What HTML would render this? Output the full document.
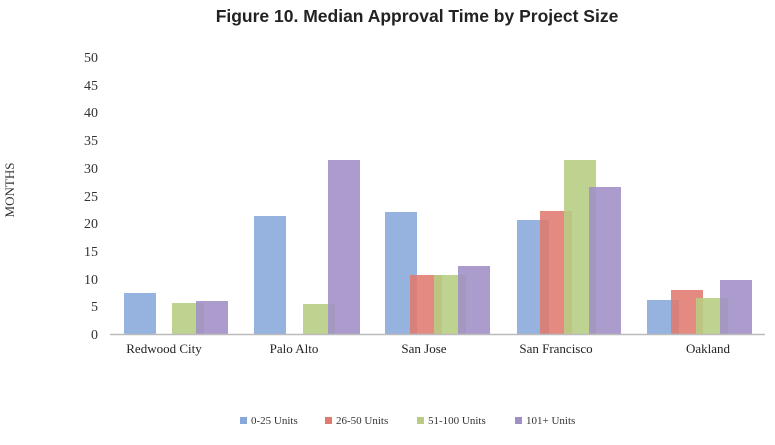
<!DOCTYPE html>
<html><head><style>body{margin:0;background:#fff}</style></head><body>
<svg width="775" height="440" xmlns="http://www.w3.org/2000/svg">
<text x="417" y="22" text-anchor="middle" font-family="Liberation Sans, sans-serif" font-weight="bold" font-size="17.5" fill="#222">Figure 10. Median Approval Time by Project Size</text>
<text transform="translate(14,190) rotate(-90)" text-anchor="middle" font-family="Liberation Serif, serif" font-size="13" fill="#333">MONTHS</text>
<g font-family="Liberation Serif, serif" font-size="14" fill="#333" text-anchor="end">
<text x="98" y="339">0</text><text x="98" y="311">5</text><text x="98" y="284">10</text><text x="98" y="256">15</text><text x="98" y="228">20</text><text x="98" y="201">25</text><text x="98" y="173">30</text><text x="98" y="145">35</text><text x="98" y="117">40</text><text x="98" y="90">45</text><text x="98" y="62">50</text>
</g>
<g fill-opacity="0.88">
<rect x="124" y="293" width="32" height="41" fill="#86a9da"/>
<rect x="172" y="303" width="32" height="31" fill="#b6cd82"/>
<rect x="196" y="301" width="32" height="33" fill="#a08ec6"/>
<rect x="254" y="216" width="32" height="118" fill="#86a9da"/>
<rect x="303" y="304" width="32" height="30" fill="#b6cd82"/>
<rect x="328" y="160" width="32" height="174" fill="#a08ec6"/>
<rect x="385" y="212" width="32" height="122" fill="#86a9da"/>
<rect x="410" y="275" width="32" height="59" fill="#e07a6f"/>
<rect x="434" y="275" width="32" height="59" fill="#b6cd82"/>
<rect x="458" y="266" width="32" height="68" fill="#a08ec6"/>
<rect x="517" y="220" width="32" height="114" fill="#86a9da"/>
<rect x="540" y="211" width="32" height="123" fill="#e07a6f"/>
<rect x="564" y="160" width="32" height="174" fill="#b6cd82"/>
<rect x="589" y="187" width="32" height="147" fill="#a08ec6"/>
<rect x="647" y="300" width="32" height="34" fill="#86a9da"/>
<rect x="671" y="290" width="32" height="44" fill="#e07a6f"/>
<rect x="696" y="298" width="32" height="36" fill="#b6cd82"/>
<rect x="720" y="280" width="32" height="54" fill="#a08ec6"/>
</g>
<line x1="110" y1="334.5" x2="765" y2="334.5" stroke="#bbb" stroke-width="1.5"/>
<g font-family="Liberation Serif, serif" font-size="13" fill="#222" text-anchor="middle">
<text x="164" y="353">Redwood City</text><text x="294" y="353">Palo Alto</text><text x="424" y="353">San Jose</text><text x="556" y="353">San Francisco</text><text x="708" y="353">Oakland</text>
</g>
<g font-family="Liberation Serif, serif" font-size="11" fill="#333">
<rect x="240" y="417" width="7" height="7" fill="#86a9da"/><text x="251" y="424">0-25 Units</text>
<rect x="325" y="417" width="7" height="7" fill="#e07a6f"/><text x="336" y="424">26-50 Units</text>
<rect x="417" y="417" width="7" height="7" fill="#b6cd82"/><text x="428" y="424">51-100 Units</text>
<rect x="515" y="417" width="7" height="7" fill="#a08ec6"/><text x="526" y="424">101+ Units</text>
</g>
</svg>
</body></html>
